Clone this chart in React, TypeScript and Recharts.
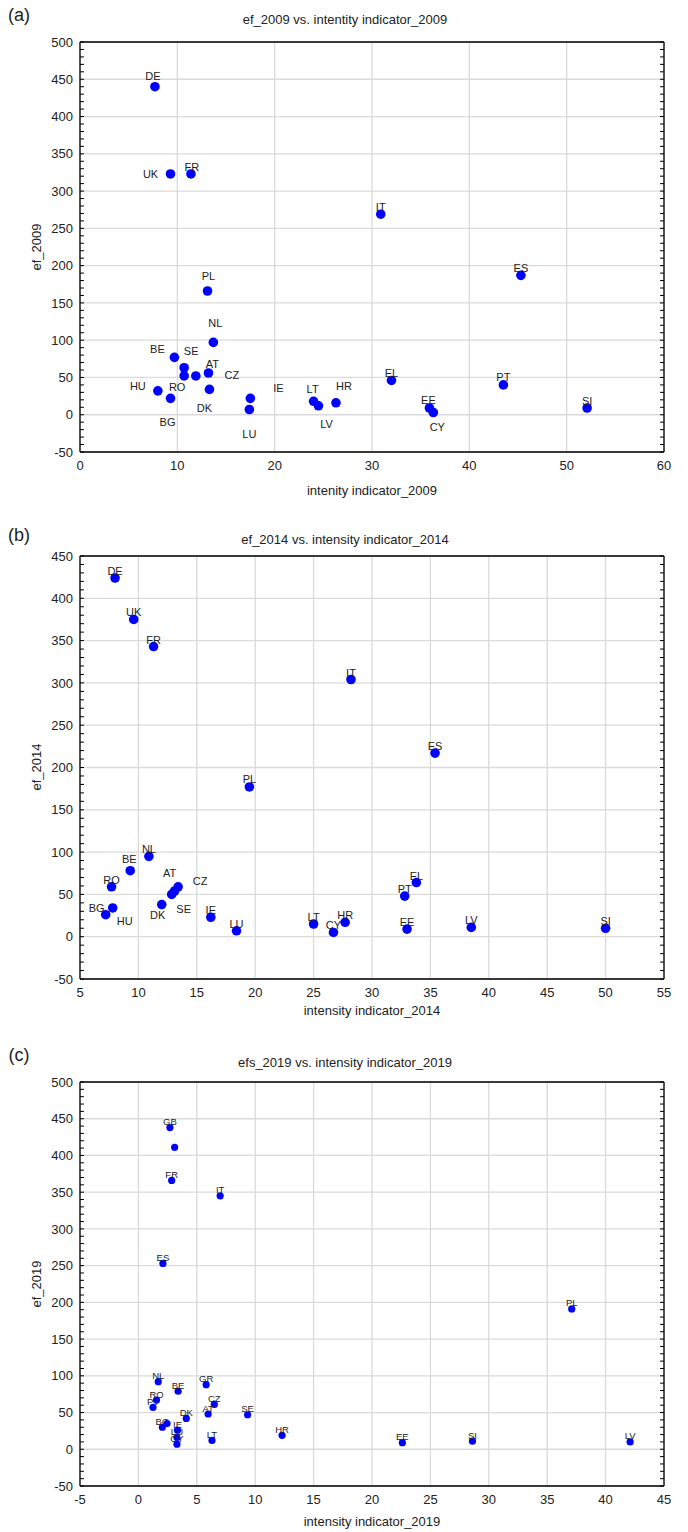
import { ScatterChart, Scatter, XAxis, YAxis, CartesianGrid } from "recharts";

// (a) 2009
const names2009 = ["DE", "UK", "FR", "IT", "ES", "PL", "NL", "BE", "SE", "RO", "CZ", "AT", "DK", "HU", "BG", "IE", "LU", "LT", "LV", "HR", "EL", "EE", "CY", "PT", "SI"];
const intensity2009 = [7.7, 9.3, 11.4, 30.9, 45.3, 13.1, 13.7, 9.7, 10.7, 10.7, 11.9, 13.2, 13.3, 8.0, 9.3, 17.5, 17.4, 24.0, 24.5, 26.3, 32.0, 35.9, 36.3, 43.5, 52.1];
const ef2009 = [440, 323, 323, 269, 187, 166, 97, 77, 63, 52, 52, 56, 34, 32, 22, 22, 7, 18, 12, 16, 46, 9, 3, 40, 9];

// (b) 2014
const names2014 = ["DE", "UK", "FR", "IT", "ES", "PL", "NL", "BE", "RO", "HU", "BG", "DK", "SE", "AT", "CZ", "IE", "LU", "LT", "CY", "HR", "EL", "PT", "EE", "LV", "SI"];
const intensity2014 = [8.0, 9.6, 11.3, 28.2, 35.4, 19.5, 10.9, 9.3, 7.7, 7.8, 7.2, 12.0, 12.85, 13.1, 13.4, 16.2, 18.4, 25.0, 26.7, 27.7, 33.8, 32.8, 33.0, 38.5, 50.0];
const ef2014 = [424, 375, 343, 304, 217, 177, 95, 78, 59, 34, 26, 38, 50, 54, 59, 23, 7, 15, 5, 17, 64, 48, 9, 11, 10];

// (c) 2019 (two points carry no label in the source)
const names2019 = ["GB", "", "FR", "IT", "ES", "PL", "NL", "BE", "GR", "RO", "PT", "CZ", "AT", "DK", "SE", "BG", "", "IE", "LU", "CY", "LT", "HR", "EE", "SI", "LV"];
const intensity2019 = [2.7, 3.1, 2.85, 7.0, 2.1, 37.1, 1.7, 3.4, 5.8, 1.55, 1.25, 6.5, 5.97, 4.1, 9.35, 2.05, 2.45, 3.35, 3.3, 3.3, 6.3, 12.3, 22.6, 28.6, 42.1];
const ef2019 = [438, 411, 366, 345, 253, 191, 92, 79, 88, 67, 57, 61, 48, 42, 47, 30, 35, 26, 16, 7, 12, 19, 9, 11, 10];

const xTicksA = [0, 10, 20, 30, 40, 50, 60];
const yTicksA = [-50, 0, 50, 100, 150, 200, 250, 300, 350, 400, 450, 500];
const xTicksB = [5, 10, 15, 20, 25, 30, 35, 40, 45, 50, 55];
const yTicksB = [-50, 0, 50, 100, 150, 200, 250, 300, 350, 400, 450];
const xTicksC = [-5, 0, 5, 10, 15, 20, 25, 30, 35, 40, 45];
const yTicksC = [-50, 0, 50, 100, 150, 200, 250, 300, 350, 400, 450, 500];

// label placement (dx, dy from the dot centre)
const offsetsA: Record<string, [number, number]> = {
  DE: [-2, -11], UK: [-20, 0], FR: [1, -7], PL: [1, -15], NL: [2, -19],
  BE: [-17, -8], SE: [7, -17], AT: [4, -9], CZ: [36, -1], RO: [-7, 11],
  DK: [-5, 19], HU: [-20, -5], BG: [-3, 24], IE: [28, -10], LU: [0, 24],
  LT: [-1, -12], LV: [8, 18], HR: [8, -17], EE: [-1, -8], CY: [4, 15], PT: [0, -8],
};
const offsetsB: Record<string, [number, number]> = {
  BE: [-1, -12], BG: [-9, -7], HU: [12, 13], DK: [-4, 10], AT: [-5, -18],
  CZ: [22, -6], SE: [12, 15], PL: [0, -8],
};
const offsetsC: Record<string, [number, number]> = {};

const range = (a: number, b: number, s: number) => {
  const out: number[] = [];
  for (let v = a; v <= b + 1e-9; v += s) out.push(Math.round(v * 100) / 100);
  return out;
};

const FONT = '"Liberation Sans", Arial, sans-serif';
const TXT = "#222";
const noLabel = () => <g />;

function Txt({ x, y, size = 13, rotate = false, children }: any) {
  return (
    <div
      style={{
        position: "absolute", left: x, top: y, fontSize: size, lineHeight: "16px", color: TXT, whiteSpace: "nowrap",
        transform: `translate(-50%, -50%)${rotate ? " rotate(-90deg)" : ""}`,
      }}
    >
      {children}
    </div>
  );
}

function Panel(props: any) {
  const { top, height, plotTop, plotBottom, xDomain, xTicks, xMinor, yDomain, yTicks, yMinor, data, offsets, def, r, labelSize } = props;
  const shape = (p: any) => {
    const { cx, cy, payload } = p;
    const [dx, dy] = offsets[payload.name] || def;
    return (
      <g>
        <circle cx={cx} cy={cy} r={r} fill="#0000ff" />
        {payload.name && (
          <text x={cx + dx} y={cy + dy} textAnchor="middle" dominantBaseline="central" fontSize={labelSize} fill={TXT}>
            {payload.name}
          </text>
        )}
      </g>
    );
  };
  const minorTick = { stroke: "#000", strokeWidth: 1 };
  return (
    <div style={{ position: "absolute", left: 0, top, width: 688, height }}>
      <ScatterChart width={688} height={height} margin={{ top: plotTop, right: 24, bottom: 0, left: 0 }}>
        <CartesianGrid xAxisId="x" yAxisId="y" stroke="#dadada" strokeWidth={1.3} />
        <XAxis xAxisId="x" dataKey="x" type="number" domain={xDomain} ticks={xTicks} interval={0} allowDataOverflow
          height={height - plotBottom} tickLine={false} tickSize={0} tickMargin={9}
          axisLine={{ stroke: "#000", strokeWidth: 1.3 }} tick={{ fontSize: 13, fill: TXT }} />
        <YAxis yAxisId="y" dataKey="y" type="number" domain={yDomain} ticks={yTicks} interval={0} allowDataOverflow
          width={80} tickLine={false} tickSize={0} tickMargin={7}
          axisLine={{ stroke: "#000", strokeWidth: 1.3 }} tick={{ fontSize: 13, fill: TXT }} />
        <XAxis xAxisId="xb" type="number" orientation="bottom" mirror domain={xDomain} ticks={xMinor} interval={0} allowDataOverflow
          tick={noLabel} tickSize={4} tickLine={minorTick} axisLine={false} />
        <XAxis xAxisId="xt" type="number" orientation="top" mirror domain={xDomain} ticks={xMinor} interval={0} allowDataOverflow
          tick={noLabel} tickSize={4} tickLine={minorTick} axisLine={{ stroke: "#000", strokeWidth: 1.3 }} />
        <YAxis yAxisId="yl" type="number" orientation="left" mirror domain={yDomain} ticks={yMinor} interval={0} allowDataOverflow
          tick={noLabel} tickSize={4} tickLine={minorTick} axisLine={false} />
        <YAxis yAxisId="yr" type="number" orientation="right" mirror domain={yDomain} ticks={yMinor} interval={0} allowDataOverflow
          tick={noLabel} tickSize={4} tickLine={minorTick} axisLine={{ stroke: "#000", strokeWidth: 1.3 }} />
        <Scatter data={data} xAxisId="x" yAxisId="y" dataKey="y" fill="#0000ff" isAnimationActive={false} shape={shape} />
      </ScatterChart>
    </div>
  );
}

const rows = (names: string[], xs: number[], ys: number[]) => names.map((name, i) => ({ name, x: xs[i], y: ys[i] }));

export default function App() {
  return (
    <div style={{ position: "absolute", left: 0, top: 0, width: 688, height: 1532, background: "#fff", fontFamily: FONT }}>
      <Panel top={0} height={520} plotTop={42} plotBottom={452}
        xDomain={[0, 60]} xTicks={xTicksA} xMinor={range(0, 60, 2)}
        yDomain={[-50, 500]} yTicks={yTicksA} yMinor={range(-50, 500, 10)}
        data={rows(names2009, intensity2009, ef2009)} offsets={offsetsA} def={[0, -7]} r={4.8} labelSize={11} />
      <Panel top={520} height={520} plotTop={36} plotBottom={459}
        xDomain={[5, 55]} xTicks={xTicksB} xMinor={range(5, 55, 1)}
        yDomain={[-50, 450]} yTicks={yTicksB} yMinor={range(-50, 450, 10)}
        data={rows(names2014, intensity2014, ef2014)} offsets={offsetsB} def={[0, -7]} r={4.8} labelSize={11} />
      <Panel top={1040} height={492} plotTop={42} plotBottom={446}
        xDomain={[-5, 45]} xTicks={xTicksC} xMinor={range(-5, 45, 1)}
        yDomain={[-50, 500]} yTicks={yTicksC} yMinor={range(-50, 500, 10)}
        data={rows(names2019, intensity2019, ef2019)} offsets={offsetsC} def={[0, -6]} r={3.6} labelSize={9.5} />

      <Txt x={19} y={15} size={18}>(a)</Txt>
      <Txt x={345} y={20}>ef_2009 vs. intentity indicator_2009</Txt>
      <Txt x={372} y={491}>intenity indicator_2009</Txt>
      <Txt x={37} y={247} rotate>ef_2009</Txt>

      <Txt x={19} y={535} size={18}>(b)</Txt>
      <Txt x={345} y={540}>ef_2014 vs. intensity indicator_2014</Txt>
      <Txt x={372} y={1011}>intensity indicator_2014</Txt>
      <Txt x={37} y={767} rotate>ef_2014</Txt>

      <Txt x={19} y={1055} size={18}>(c)</Txt>
      <Txt x={345} y={1063}>efs_2019 vs. intensity indicator_2019</Txt>
      <Txt x={372} y={1522}>intensity indicator_2019</Txt>
      <Txt x={37} y={1284} rotate>ef_2019</Txt>
    </div>
  );
}
